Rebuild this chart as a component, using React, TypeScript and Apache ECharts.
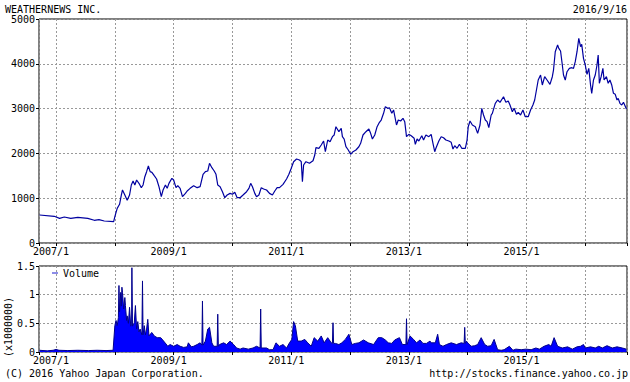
import { useEffect, useRef } from 'react';
import * as echarts from 'echarts';

const TITLE = 'WEATHERNEWS INC.';
const DATE_LABEL = '2016/9/16';
const COPYRIGHT = '(C) 2016 Yahoo Japan Corporation.';
const SOURCE_URL = 'http://stocks.finance.yahoo.co.jp';
const VOLUME_UNIT = '(x1000000)';
const VOLUME_NAME = 'Volume';

// time in decimal years
const X_MIN = 2006.71;
const X_MAX = 2016.71;

const priceYears = [
  2006.72, 2006.97, 2007.06, 2007.14, 2007.25, 2007.37, 2007.54, 2007.65, 2007.73, 2007.82, 2007.98,
  2008.0, 2008.04, 2008.08, 2008.11, 2008.13, 2008.17, 2008.21, 2008.25, 2008.28, 2008.31, 2008.34,
  2008.37, 2008.41, 2008.45, 2008.48, 2008.51, 2008.54, 2008.57, 2008.6, 2008.63, 2008.67, 2008.71,
  2008.75, 2008.79, 2008.82, 2008.86, 2008.89, 2008.92, 2008.97, 2009.0, 2009.04, 2009.07, 2009.11,
  2009.15, 2009.2,
  2009.23, 2009.28, 2009.34, 2009.4, 2009.45, 2009.5, 2009.54, 2009.58, 2009.61, 2009.65, 2009.69,
  2009.72, 2009.75, 2009.79, 2009.83, 2009.87, 2009.91, 2009.96, 2010.0, 2010.04, 2010.08, 2010.13,
  2010.18, 2010.24, 2010.28, 2010.31, 2010.34, 2010.38, 2010.41, 2010.45, 2010.49, 2010.53, 2010.58,
  2010.63, 2010.68, 2010.72, 2010.76, 2010.8, 2010.86, 2010.92, 2010.96, 2011.0, 2011.04, 2011.09,
  2011.14, 2011.17, 2011.19, 2011.21, 2011.25, 2011.31, 2011.37, 2011.4, 2011.42, 2011.47, 2011.51,
  2011.55, 2011.58, 2011.62, 2011.66, 2011.7, 2011.73, 2011.76,
  2011.81, 2011.85, 2011.87, 2011.9, 2011.93, 2011.97, 2012.01, 2012.05, 2012.1, 2012.15, 2012.18,
  2012.22, 2012.27, 2012.32, 2012.35, 2012.38, 2012.42, 2012.46, 2012.5, 2012.53, 2012.57, 2012.6,
  2012.64, 2012.67, 2012.71, 2012.74, 2012.79, 2012.82, 2012.86, 2012.9, 2012.93, 2012.96, 2013.0,
  2013.04, 2013.09, 2013.11, 2013.14, 2013.17, 2013.22, 2013.25, 2013.29, 2013.34, 2013.38, 2013.41,
  2013.44, 2013.46, 2013.51, 2013.55, 2013.59, 2013.63, 2013.68, 2013.72, 2013.75, 2013.78, 2013.82,
  2013.86, 2013.9, 2013.96, 2013.99, 2014.01, 2014.04, 2014.08, 2014.13, 2014.17, 2014.21, 2014.24,
  2014.27, 2014.3,
  2014.33, 2014.36, 2014.4, 2014.42, 2014.47, 2014.51, 2014.55, 2014.61, 2014.65, 2014.69, 2014.72,
  2014.76, 2014.79, 2014.83, 2014.86, 2014.9, 2014.94, 2014.98, 2015.03, 2015.07, 2015.11, 2015.14,
  2015.17, 2015.2, 2015.24, 2015.27, 2015.31, 2015.35, 2015.4, 2015.44, 2015.46, 2015.49, 2015.53,
  2015.55, 2015.58, 2015.61, 2015.63, 2015.66, 2015.69, 2015.73, 2015.77, 2015.8, 2015.83, 2015.86,
  2015.89, 2015.92, 2015.94, 2015.97, 2016.0, 2016.03, 2016.06, 2016.09, 2016.11, 2016.14, 2016.17,
  2016.2, 2016.22, 2016.24, 2016.27, 2016.3, 2016.32, 2016.36, 2016.39, 2016.42, 2016.45, 2016.48,
  2016.51, 2016.54, 2016.56, 2016.59, 2016.62, 2016.65, 2016.7,
];

const priceValues = [
  625, 596, 551, 580, 551, 573, 551, 507, 520, 491, 475,
  587, 774, 864, 1071, 1183, 1071, 953, 1071, 1295, 1384, 1295,
  1406, 1332, 1235, 1295, 1480, 1592, 1719, 1592, 1577, 1502, 1428,
  1257, 1034, 1183, 1295, 1220, 1332, 1444, 1406, 1235, 1280, 1220,
  1034, 1108,
  1161, 1220, 1280, 1235, 1257, 1533, 1592, 1607, 1779, 1681, 1607,
  1533, 1295, 1257, 1145, 1011, 1071, 1108, 1087, 1131, 1011, 1011,
  1071, 1145, 1220, 1332, 1257, 1108, 1034, 1071, 1235, 1205, 1183,
  1108, 1071, 1161, 1235, 1235, 1310, 1428, 1533, 1667, 1815, 1875,
  1853, 1815, 1368, 1741, 1815, 1779, 1837, 1964, 2127, 2114, 2187,
  2277, 2038, 2299, 2261, 2373, 2411, 2596,
  2484, 2559, 2373, 2321, 2149, 2076, 1980, 2038, 2076, 2149, 2225,
  2411, 2484, 2544, 2448, 2321, 2411, 2596, 2694, 2745, 2895, 3042,
  3006, 3020, 2895, 2969, 2634, 2745, 2723, 2783, 2708, 2373, 2426,
  2395, 2337, 2203, 2321, 2277, 2395, 2299, 2411, 2373, 2426, 2225,
  2038, 2114, 2277, 2373, 2350, 2299, 2277, 2248, 2098, 2172, 2114,
  2203, 2114, 2114, 2299, 2596, 2723, 2634, 2596, 2448, 2634, 3006,
  2857, 2745,
  2708, 2574, 2857, 2895, 3118, 3192, 3140, 3265, 3140, 3169, 3080,
  2931, 3006, 2872, 2917, 2857, 2969, 2819, 2819, 2969, 3080, 3192,
  3415, 3638, 3750, 3527, 3712, 3638, 3542, 3712, 3861, 4270, 4419,
  4345, 4285, 3973, 3750, 3638, 3823, 3898, 3913, 3898, 4047, 4270,
  4569, 4382, 4434, 4122, 3973, 3765, 3898, 3527, 3341, 3638, 3750,
  3973, 4196, 3564, 3712, 3898, 3638, 3712, 3564, 3638, 3527, 3341,
  3319, 3192, 3229, 3118, 3080, 3140, 2991,
];

const volumeYears = [
  2006.72, 2006.85, 2006.95, 2007.0, 2007.05, 2007.2, 2007.37, 2007.55, 2007.7, 2007.85, 2007.97,
  2008.0, 2008.02, 2008.04, 2008.06, 2008.07, 2008.08, 2008.1, 2008.11, 2008.12, 2008.13, 2008.15,
  2008.17, 2008.18, 2008.2, 2008.21, 2008.23, 2008.25, 2008.27, 2008.285, 2008.29, 2008.3, 2008.33,
  2008.35, 2008.37, 2008.39, 2008.41, 2008.43, 2008.46, 2008.47, 2008.48, 2008.5, 2008.52, 2008.54,
  2008.56, 2008.58, 2008.6, 2008.63, 2008.67, 2008.72, 2008.78, 2008.83, 2008.87, 2008.9, 2008.94,
  2009.0, 2009.06, 2009.11, 2009.17, 2009.23, 2009.25, 2009.3, 2009.34, 2009.4, 2009.45, 2009.48,
  2009.49, 2009.5, 2009.54, 2009.58, 2009.61, 2009.65, 2009.68, 2009.74, 2009.75, 2009.76, 2009.78,
  2009.85, 2009.9, 2009.96, 2010.02, 2010.07, 2010.13, 2010.18, 2010.27, 2010.35, 2010.41, 2010.47,
  2010.48, 2010.49, 2010.52, 2010.58, 2010.63, 2010.69, 2010.74, 2010.8, 2010.86, 2010.92, 2010.97,
  2011.01, 2011.04, 2011.07, 2011.11, 2011.17, 2011.23, 2011.28, 2011.34, 2011.39, 2011.45, 2011.51,
  2011.56, 2011.62, 2011.68, 2011.7, 2011.71, 2011.72, 2011.75, 2011.81, 2011.86, 2011.92, 2011.98,
  2012.03, 2012.09, 2012.15, 2012.23, 2012.31, 2012.4, 2012.48, 2012.54, 2012.6, 2012.65, 2012.71,
  2012.76, 2012.84, 2012.89, 2012.95, 2012.96, 2012.97, 2013.02, 2013.08, 2013.13, 2013.19, 2013.24,
  2013.3, 2013.36, 2013.38, 2013.45, 2013.49, 2013.52, 2013.58, 2013.64, 2013.72, 2013.81, 2013.89,
  2013.94, 2013.95, 2013.96, 2013.98, 2014.0, 2014.06, 2014.12, 2014.17, 2014.23, 2014.29, 2014.34,
  2014.4, 2014.45, 2014.51, 2014.57, 2014.62, 2014.71, 2014.77, 2014.82, 2014.91, 2014.99, 2015.08,
  2015.16, 2015.22, 2015.3, 2015.38, 2015.42, 2015.47, 2015.53, 2015.61, 2015.7, 2015.78, 2015.86,
  2015.92, 2015.97, 2016.0, 2016.09, 2016.17, 2016.23, 2016.29, 2016.37, 2016.46, 2016.54, 2016.63,
  2016.7,
];

const volumeValues = [
  0.03, 0.02, 0.03, 0.045, 0.03, 0.025, 0.03, 0.025, 0.03, 0.025, 0.03,
  0.46, 0.55, 0.46, 0.6, 1.16, 0.7, 1.04, 0.8, 1.13, 1.04, 0.75,
  0.95, 0.81, 0.55, 0.63, 0.5, 0.78, 0.45, 0.5, 1.47, 0.45, 0.51,
  0.81, 0.4, 0.53, 0.35, 0.4, 0.3, 1.24, 0.3, 0.46, 0.3, 0.4,
  0.57, 0.28, 0.31, 0.34, 0.28, 0.25, 0.25, 0.19, 0.14, 0.1, 0.13,
  0.1, 0.13, 0.1, 0.08, 0.09, 0.16, 0.09, 0.1, 0.13, 0.16, 0.12,
  0.89, 0.12, 0.19, 0.4, 0.43, 0.16, 0.1, 0.1, 0.66, 0.1, 0.13,
  0.16, 0.13, 0.19, 0.13, 0.07, 0.05, 0.07, 0.05, 0.07, 0.1, 0.07,
  0.75, 0.07, 0.07, 0.07, 0.04, 0.04, 0.16, 0.1, 0.13, 0.07, 0.16,
  0.22, 0.53, 0.46, 0.19, 0.19, 0.22, 0.16, 0.1, 0.25, 0.19, 0.28,
  0.16, 0.25, 0.16, 0.15, 0.51, 0.15, 0.15, 0.13, 0.16, 0.22, 0.31,
  0.13, 0.15, 0.16, 0.21, 0.16, 0.13, 0.25, 0.25, 0.21, 0.16, 0.15,
  0.21, 0.25, 0.13, 0.13, 0.58, 0.13, 0.28, 0.22, 0.16, 0.21, 0.15,
  0.15, 0.19, 0.16, 0.16, 0.31, 0.13, 0.1, 0.13, 0.16, 0.13, 0.16,
  0.15, 0.43, 0.15, 0.19, 0.16, 0.1, 0.11, 0.13, 0.25, 0.13, 0.1,
  0.11, 0.22, 0.04, 0.03, 0.04, 0.1, 0.03, 0.05, 0.04, 0.05, 0.04,
  0.07, 0.05, 0.1, 0.13, 0.1, 0.25, 0.1, 0.07, 0.09, 0.05, 0.09,
  0.1, 0.13, 0.07, 0.09, 0.07, 0.1, 0.07, 0.11, 0.07, 0.09, 0.07,
  0.05,
];

const FONT = "'DejaVu Sans Mono', monospace";

function yearLabel(v: number): string {
  const r = Math.round(v);
  if (Math.abs(v - r) > 1e-6) return '';
  if (r % 2 !== 1) return '';
  return `${r}/1`;
}

function plainNumber(v: number): string {
  return String(Math.round(v * 100) / 100);
}

export default function App() {
  const ref = useRef<HTMLDivElement>(null);

  useEffect(() => {
    if (!ref.current) return;
    const chart = echarts.init(ref.current, undefined, { renderer: 'svg' });

    const gridLine = { show: true, lineStyle: { color: '#999', type: [2, 2] as number[], width: 1 } };
    const xAxis = (gridIndex: number) => ({
      type: 'value' as const,
      gridIndex,
      min: X_MIN,
      max: X_MAX,
      splitNumber: 10,
      axisLine: { show: false },
      axisTick: { show: true, length: 3, lineStyle: { color: '#000' } },
      axisLabel: {
        formatter: yearLabel,
        color: '#000',
        fontSize: 10,
        fontFamily: FONT,
        margin: 3,
        padding: [0, 10, 0, 0],
      },
      splitLine: gridLine,
    });
    const yLabel = { color: '#000', fontSize: 10, fontFamily: FONT, margin: 4, formatter: plainNumber };

    const price = priceYears.map((y, i) => [y, priceValues[i]]);
    const volume = volumeYears.map((y, i) => [y, volumeValues[i]]);

    chart.setOption({
      animation: false,
      backgroundColor: '#fff',
      textStyle: { fontFamily: FONT },
      grid: [
        { left: 39, top: 19, width: 590, height: 224, show: true, borderColor: '#000', borderWidth: 1 },
        { left: 39, top: 266, width: 590, height: 86, show: true, borderColor: '#000', borderWidth: 1 },
      ],
      xAxis: [xAxis(0), xAxis(1)],
      yAxis: [
        {
          type: 'value',
          gridIndex: 0,
          min: 0,
          max: 5000,
          interval: 1000,
          axisLine: { show: false },
          axisTick: { show: true, length: 3, lineStyle: { color: '#000' } },
          axisLabel: yLabel,
          splitLine: gridLine,
        },
        {
          type: 'value',
          gridIndex: 1,
          min: 0,
          max: 1.5,
          interval: 0.5,
          axisLine: { show: false },
          axisTick: { show: true, length: 3, lineStyle: { color: '#000' } },
          axisLabel: yLabel,
          splitLine: gridLine,
        },
      ],
      legend: {
        data: [VOLUME_NAME],
        left: 52,
        top: 268,
        padding: 0,
        icon: 'rect',
        itemWidth: 6,
        itemHeight: 1,
        selectedMode: false,
        textStyle: { color: '#000', fontSize: 10, fontFamily: FONT },
      },
      series: [
        {
          name: 'Price',
          type: 'line',
          xAxisIndex: 0,
          yAxisIndex: 0,
          data: price,
          showSymbol: false,
          symbol: 'none',
          lineStyle: { color: '#0000a0', width: 1.2 },
          itemStyle: { color: '#0000a0' },
        },
        {
          name: VOLUME_NAME,
          type: 'line',
          xAxisIndex: 1,
          yAxisIndex: 1,
          data: volume,
          showSymbol: false,
          symbol: 'none',
          lineStyle: { color: '#00008b', width: 1 },
          itemStyle: { color: '#1a1ad0' },
          areaStyle: { color: '#0000ff', opacity: 1 },
        },
      ],
      graphic: [
        { type: 'text', x: 5, y: 9, style: { text: TITLE, fill: '#000', fontSize: 10, fontFamily: FONT, verticalAlign: 'middle' } },
        { type: 'text', x: 627, y: 9, style: { text: DATE_LABEL, fill: '#000', fontSize: 10, fontFamily: FONT, align: 'right', verticalAlign: 'middle' } },
        { type: 'text', x: 5, y: 373, style: { text: COPYRIGHT, fill: '#000', fontSize: 10, fontFamily: FONT, verticalAlign: 'middle' } },
        { type: 'text', x: 628, y: 373, style: { text: SOURCE_URL, fill: '#000', fontSize: 10, fontFamily: FONT, align: 'right', verticalAlign: 'middle' } },
        {
          type: 'text',
          x: 8,
          y: 327,
          rotation: Math.PI / 2,
          style: { text: VOLUME_UNIT, fill: '#000', fontSize: 10, fontFamily: FONT, align: 'center', verticalAlign: 'middle' },
        },
      ],
    });

    return () => chart.dispose();
  }, []);

  return (
    <div
      ref={ref}
      style={{ position: 'absolute', left: 0, top: 0, width: 630, height: 382, background: '#fff' }}
    />
  );
}
